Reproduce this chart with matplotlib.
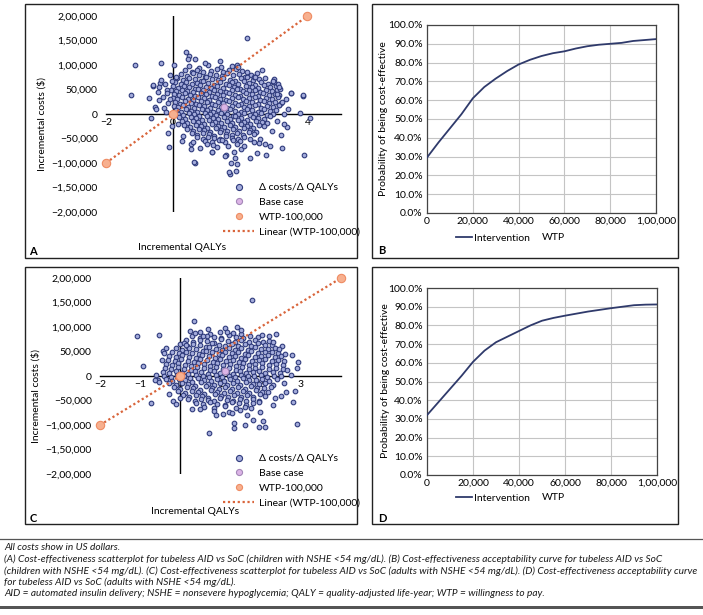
import matplotlib
matplotlib.use('Agg')
import matplotlib.pyplot as plt
from matplotlib.lines import Line2D
from matplotlib.patches import Rectangle

plt.rcParams['font.family'] = ['Lato', 'DejaVu Sans']
plt.rcParams['axes.unicode_minus'] = True

# ------------------------------------------------------------------ data
# Panel A: dense core of the PSA cloud, row by row (QALY values, cost values in $1000)
a_core_x = [
    [0.48, 0.78, 1.05, 1.42, 1.76],
    [0.36, 0.55, 0.71, 0.9, 1.12, 1.3, 1.5, 1.66, 1.88, 2.05],
    [0.24, 0.42, 0.6, 0.77, 0.95, 1.1, 1.27, 1.45, 1.6, 1.78, 1.95, 2.14, 2.33, 2.5],
    [0.12, 0.3, 0.47, 0.66, 0.82, 0.98, 1.16, 1.34, 1.5, 1.68, 1.85, 2.02, 2.2, 2.38, 2.57, 2.75],
    [0.05, 0.22, 0.38, 0.55, 0.72, 0.9, 1.05, 1.22, 1.4, 1.57, 1.74, 1.92, 2.1, 2.27, 2.45, 2.63, 2.82, 2.97],
    [0.0, 0.15, 0.32, 0.48, 0.65, 0.8, 0.98, 1.14, 1.31, 1.48, 1.66, 1.82, 2.0, 2.17, 2.35, 2.53, 2.7, 2.88, 3.05],
    [-0.05, 0.1, 0.26, 0.42, 0.58, 0.74, 0.9, 1.07, 1.23, 1.4, 1.57, 1.74, 1.91, 2.08, 2.26, 2.43, 2.6, 2.78, 2.95, 3.1],
    [0.02, 0.18, 0.34, 0.5, 0.66, 0.82, 0.99, 1.15, 1.32, 1.49, 1.65, 1.83, 2.0, 2.17, 2.34, 2.52, 2.69, 2.86, 3.03, 3.16],
    [0.0, 0.12, 0.27, 0.43, 0.59, 0.75, 0.91, 1.07, 1.24, 1.41, 1.58, 1.75, 1.92, 2.09, 2.26, 2.43, 2.6, 2.77, 2.94, 3.12],
    [0.05, 0.2, 0.36, 0.52, 0.68, 0.84, 1.0, 1.17, 1.33, 1.5, 1.67, 1.84, 2.01, 2.18, 2.35, 2.52, 2.7, 2.87, 3.04, 3.2],
    [0.02, 0.14, 0.29, 0.45, 0.61, 0.77, 0.93, 1.09, 1.26, 1.42, 1.59, 1.76, 1.93, 2.1, 2.27, 2.44, 2.62, 2.79, 2.96, 3.14],
    [0.08, 0.22, 0.38, 0.54, 0.7, 0.86, 1.02, 1.18, 1.35, 1.52, 1.68, 1.85, 2.02, 2.19, 2.36, 2.54, 2.71, 2.88, 3.06],
    [0.14, 0.3, 0.46, 0.62, 0.78, 0.94, 1.1, 1.27, 1.44, 1.6, 1.77, 1.94, 2.11, 2.28, 2.45, 2.63, 2.8, 2.98],
    [0.18, 0.35, 0.52, 0.68, 0.85, 1.01, 1.18, 1.35, 1.51, 1.68, 1.85, 2.02, 2.19, 2.37, 2.54, 2.72, 2.9],
    [0.25, 0.42, 0.58, 0.75, 0.92, 1.08, 1.25, 1.42, 1.59, 1.76, 1.93, 2.1, 2.28, 2.46, 2.64, 2.8],
    [0.33, 0.5, 0.67, 0.84, 1.0, 1.17, 1.34, 1.51, 1.68, 1.85, 2.02, 2.2, 2.38, 2.56, 2.7],
    [0.42, 0.6, 0.77, 0.93, 1.1, 1.27, 1.44, 1.61, 1.78, 1.95, 2.12, 2.3, 2.47],
    [0.55, 0.72, 0.89, 1.06, 1.23, 1.4, 1.57, 1.74, 1.91, 2.08, 2.26, 2.42],
    [0.7, 0.88, 1.05, 1.22, 1.4, 1.57, 1.75, 1.92, 2.1, 2.28],
    [0.95, 1.15, 1.36, 1.55, 1.78, 2.0],
    [1.2, 1.62, 1.9],
]
a_core_yk = [
    [97, 93, 99, 95, 98],
    [90, 86, 89, 85, 88, 91, 86, 89, 92, 87],
    [81, 78, 83, 79, 76, 82, 80, 77, 83, 79, 81, 76, 80, 83],
    [73, 69, 74, 71, 68, 75, 72, 69, 74, 70, 68, 73, 75, 70, 72, 74],
    [66, 62, 65, 61, 64, 67, 63, 60, 66, 62, 65, 61, 67, 63, 60, 65, 62, 66],
    [57, 53, 58, 55, 52, 59, 56, 53, 57, 54, 59, 55, 52, 58, 56, 53, 59, 55, 57],
    [49, 46, 50, 47, 44, 51, 48, 45, 50, 47, 44, 49, 51, 46, 48, 50, 45, 49, 47, 50],
    [41, 38, 42, 39, 36, 43, 40, 37, 41, 38, 43, 39, 36, 42, 40, 37, 43, 39, 41, 38],
    [33, 30, 34, 31, 28, 35, 32, 29, 34, 31, 28, 33, 35, 30, 32, 34, 29, 33, 31, 34],
    [25, 21, 26, 23, 20, 27, 24, 21, 25, 22, 27, 23, 20, 26, 24, 21, 27, 23, 25, 22],
    [17, 14, 18, 15, 12, 19, 16, 13, 18, 15, 12, 17, 19, 14, 16, 18, 13, 17, 15, 18],
    [9, 5, 10, 7, 4, 11, 8, 5, 9, 6, 11, 7, 4, 10, 8, 5, 11, 7, 9],
    [1, -2, 2, -1, -4, 3, 0, -3, 2, -1, -4, 1, 3, -2, 0, 2, -3, 1],
    [-7, -11, -6, -9, -12, -5, -8, -11, -7, -10, -5, -9, -12, -6, -8, -11, -5],
    [-15, -18, -14, -17, -20, -13, -16, -19, -15, -18, -13, -17, -20, -14, -16, -19],
    [-23, -27, -22, -25, -28, -21, -24, -27, -23, -26, -21, -25, -28, -22, -24],
    [-31, -34, -30, -33, -36, -29, -32, -35, -31, -34, -29, -33, -36],
    [-39, -43, -38, -41, -44, -37, -40, -43, -39, -42, -37, -41],
    [-47, -51, -46, -49, -52, -45, -48, -51, -47, -50],
    [-55, -58, -54, -57, -53, -56],
    [-63, -66, -62],
]
# Panel A: scattered points outside the core (QALYs, $1000)
a_out_x = [2.20, -1.15, -0.36, 0.04, -1.25, -0.73, -0.60, -0.39, -0.36, -0.53, -0.66, -0.16,
           -0.13, 0.64, 0.54, 0.60, 1.16, 1.56, 1.69, 1.86, 1.73, 1.90, 1.85, 2.30, 2.50, 2.76,
           2.90, 3.24, 3.21, 3.40, 3.30, 3.91, 4.09, 3.77, 3.87, 3.50, 3.13, 2.99, 3.00, 3.17,
           2.41, 1.90, 1.92, 0.95, 0.65, 0.47, 0.39, 0.44, 2.43, 2.97, 3.15, 3.51, 3.88, 3.09,
           3.43, 3.16, -0.61, -0.42, -0.41, -0.52, -0.24, -0.19, -0.17, -0.04, -0.27, -0.14,
           -0.02, 0.54, 0.63, 1.15, 1.55, 1.67, -0.30, -0.45, -0.20, -0.08, 2.03, 2.40, 2.75,
           1.46, 1.80, 2.10, 2.60, 2.95, 3.10, 3.25, 3.30, 0.15, 0.30, 0.25, 0.80, 1.30, 1.00,
           2.55, 2.20, 3.35, 0.10, -0.10, 1.40, 2.65]
a_out_yk = [156, 99, 105, 99, 39, 33, 58, 63, 69, 14, -9, -39,
            -67, -99, -62, -57, -78, -84, -122, -116, -99, -102,
            -89, -90, -79, -84, -65, -69, -43, -26, -20, -84,
            -9, 3, 37, 43, 61, 71, 66, 51, 76, 100, 95, 105,
            113, 119, 126, 112, 76, 67, 56, 43, 38, 41, 11,
            19, 59, 55, 29, 10, 61, 50, 43, 67, 12, 22, -24,
            -71, -98, -78, -85, -119, 35, 45, 5, 30, -72, -57,
            -62, -53, -77, -65, -50, -35, -15, 25, 0, -20, -45,
            -55, -70, -68, -62, -60, 85, 30, 75, 80, 108, 90]
a_base_x = [1.52]
a_base_yk = [14]

# Panel C: dense core
c_core_x = [
    [0.5, 0.75, 1.0, 1.3, 1.52],
    [0.3, 0.48, 0.66, 0.84, 1.02, 1.2, 1.38, 1.56, 1.74, 1.93],
    [0.15, 0.32, 0.5, 0.67, 0.84, 1.01, 1.18, 1.35, 1.52, 1.7, 1.87, 2.05, 2.2],
    [0.0, 0.16, 0.32, 0.48, 0.64, 0.8, 0.96, 1.12, 1.28, 1.44, 1.6, 1.77, 1.93, 2.1, 2.28],
    [-0.12, 0.05, 0.22, 0.39, 0.56, 0.72, 0.88, 1.04, 1.2, 1.36, 1.52, 1.68, 1.85, 2.02, 2.18, 2.36],
    [-0.2, -0.04, 0.13, 0.3, 0.47, 0.63, 0.8, 0.96, 1.12, 1.28, 1.44, 1.6, 1.76, 1.93, 2.1, 2.27, 2.44],
    [-0.28, -0.12, 0.05, 0.21, 0.38, 0.55, 0.71, 0.87, 1.03, 1.2, 1.36, 1.52, 1.68, 1.85, 2.01, 2.18, 2.35, 2.5],
    [-0.3, -0.14, 0.02, 0.18, 0.34, 0.5, 0.66, 0.82, 0.98, 1.14, 1.3, 1.46, 1.62, 1.78, 1.95, 2.11, 2.28, 2.44, 2.58],
    [-0.35, -0.2, -0.05, 0.11, 0.27, 0.43, 0.59, 0.75, 0.91, 1.07, 1.23, 1.39, 1.55, 1.71, 1.87, 2.03, 2.2, 2.37, 2.55],
    [-0.38, -0.22, -0.06, 0.1, 0.26, 0.42, 0.58, 0.74, 0.9, 1.06, 1.22, 1.38, 1.54, 1.7, 1.86, 2.03, 2.2, 2.37, 2.55],
    [-0.42, -0.27, -0.12, 0.04, 0.2, 0.36, 0.52, 0.68, 0.84, 1.0, 1.16, 1.32, 1.48, 1.64, 1.8, 1.96, 2.12, 2.3, 2.48],
    [-0.4, -0.24, -0.08, 0.08, 0.24, 0.4, 0.56, 0.72, 0.88, 1.04, 1.2, 1.36, 1.52, 1.68, 1.84, 2.0, 2.17, 2.34, 2.5],
    [-0.36, -0.2, -0.04, 0.12, 0.28, 0.44, 0.6, 0.76, 0.92, 1.08, 1.24, 1.4, 1.56, 1.72, 1.88, 2.04, 2.2, 2.4],
    [-0.28, -0.12, 0.04, 0.2, 0.36, 0.52, 0.68, 0.84, 1.0, 1.16, 1.32, 1.48, 1.64, 1.8, 1.96, 2.12, 2.3],
    [-0.15, 0.0, 0.16, 0.32, 0.48, 0.64, 0.8, 0.96, 1.12, 1.28, 1.44, 1.6, 1.76, 1.92, 2.08, 2.25],
    [-0.05, 0.12, 0.28, 0.44, 0.6, 0.76, 0.92, 1.08, 1.24, 1.4, 1.56, 1.72, 1.88, 2.04, 2.18],
    [0.06, 0.22, 0.38, 0.54, 0.7, 0.86, 1.02, 1.18, 1.34, 1.5, 1.66, 1.82, 1.98, 2.12],
    [0.2, 0.36, 0.52, 0.68, 0.84, 1.0, 1.16, 1.32, 1.48, 1.64, 1.8, 1.97],
    [0.38, 0.56, 0.74, 0.92, 1.1, 1.28, 1.46, 1.64, 1.82],
    [0.6, 0.85, 1.12, 1.38, 1.62],
    [0.85, 1.2, 1.48],
]
c_core_yk = [
    [89, 86, 90, 87, 85],
    [81, 78, 82, 79, 77, 83, 80, 78, 82, 79],
    [73, 70, 74, 71, 68, 75, 72, 69, 74, 70, 73, 69, 72],
    [65, 62, 66, 63, 60, 67, 64, 61, 66, 62, 65, 61, 67, 63, 64],
    [57, 54, 58, 55, 52, 59, 56, 53, 58, 54, 57, 53, 59, 55, 56, 58],
    [49, 46, 50, 47, 44, 51, 48, 45, 50, 46, 49, 45, 51, 47, 48, 50, 46],
    [41, 38, 42, 39, 36, 43, 40, 37, 42, 38, 41, 37, 43, 39, 40, 42, 38, 41],
    [33, 30, 34, 31, 28, 35, 32, 29, 34, 30, 33, 29, 35, 31, 32, 34, 30, 33, 31],
    [25, 22, 26, 23, 20, 27, 24, 21, 26, 22, 25, 21, 27, 23, 24, 26, 22, 25, 23],
    [17, 14, 18, 15, 12, 19, 16, 13, 18, 14, 17, 13, 19, 15, 16, 18, 14, 17, 15],
    [9, 6, 10, 7, 4, 11, 8, 5, 10, 6, 9, 5, 11, 7, 8, 10, 6, 9, 7],
    [1, -2, 2, -1, -4, 3, 0, -3, 2, -2, 1, -3, 3, -1, 0, 2, -2, 1, -1],
    [-7, -10, -6, -9, -12, -5, -8, -11, -6, -10, -7, -11, -5, -9, -8, -6, -10, -7],
    [-15, -18, -14, -17, -20, -13, -16, -19, -14, -18, -15, -19, -13, -17, -16, -14, -18],
    [-23, -26, -22, -25, -28, -21, -24, -27, -22, -26, -23, -27, -21, -25, -24, -22],
    [-31, -34, -30, -33, -36, -29, -32, -35, -30, -34, -31, -35, -29, -33, -32],
    [-39, -42, -38, -41, -44, -37, -40, -43, -38, -42, -39, -43, -37, -41],
    [-47, -50, -46, -49, -52, -45, -48, -51, -46, -50, -47, -51],
    [-55, -58, -54, -57, -60, -53, -56, -59, -55],
    [-63, -66, -62, -65, -64],
    [-71, -74, -70],
]
c_out_x = [1.78, 0.34, -1.08, -0.53, -0.92, -0.73, 0.72, 2.90, 2.80, 2.79, 2.92, 2.90, 2.75,
           2.64, 2.85, 2.53, 2.38, 2.21, 2.03, 1.62, 1.33, 1.33, 1.82, 1.97, 2.12, 2.07, 1.99,
           1.97, 1.66, 1.29, 1.05, 0.28, -0.18, -0.27, -0.60, -0.55, -0.42, -0.40, -0.35, 0.10,
           0.14, 0.37, 0.57, 0.68, 1.10, 1.41, 1.52, 1.17, 2.30, 2.45, 2.60, 2.50, 2.35, 2.30,
           2.58, 0.50, 0.00, -0.10, -0.62, -0.52, 0.90, 1.75, 2.65, -0.45, 0.25]
c_out_yk = [155, 113, 82, 84, 21, -55, -117, -98, -53, 43, 29,
            17, 3, -32, -30, 62, 85, 82, 83, -100, -107, -95,
            -89, -104, -105, -92, -73, -54, -80, -75, -78, -68,
            -51, -37, 3, -8, 52, 46, 57, 68, 63, 87, 81, 96,
            98, 99, 94, 90, 70, 55, 45, -40, -45, -60, -15,
            -68, -45, -58, -8, -12, -80, -66, 12, 33, 92]
c_base_x = [1.11]
c_base_yk = [10]

# WTP = 100,000 threshold line
wtp_line_x = [-2, 0, 4]
wtp_line_y = [-100000, 0, 200000]

# CEAC curves
ceac_wtp = [0, 5000, 10000, 15000, 20000, 25000, 30000, 35000, 40000, 45000, 50000,
            55000, 60000, 65000, 70000, 75000, 80000, 85000, 90000, 95000, 100000]
ceac_b = [29.5, 37.5, 45.0, 52.5, 61.0, 67.0, 71.5, 75.5, 79.0, 81.5, 83.5,
          85.0, 86.0, 87.5, 88.7, 89.5, 90.0, 90.5, 91.5, 92.0, 92.5]
ceac_d = [32.0, 39.0, 46.0, 53.0, 60.5, 66.5, 71.0, 74.0, 77.0, 80.0, 82.5,
          84.0, 85.2, 86.3, 87.4, 88.3, 89.2, 90.0, 90.8, 91.1, 91.2]

# ticks
cost_ticks = [-200000, -150000, -100000, -50000, 0, 50000, 100000, 150000, 200000]
cost_ticklabels = ['\u22122,00,000', '\u22121,50,000', '\u22121,00,000', '\u221250,000', '0',
                   '50,000', '1,00,000', '1,50,000', '2,00,000']
a_qaly_ticks = [-2, 0, 2, 4]
a_qaly_ticklabels = ['\u22122', '0', '2', '4']
c_qaly_ticks = [-2, -1, 0, 1, 2, 3]
c_qaly_ticklabels = ['\u22122', '\u22121', '0', '1', '2', '3']
wtp_ticks = [0, 20000, 40000, 60000, 80000, 100000]
wtp_ticklabels = ['0', '20,000', '40,000', '60,000', '80,000', '1,00,000']
prob_ticks = [0, 10, 20, 30, 40, 50, 60, 70, 80, 90, 100]
prob_ticklabels = ['0.0%', '10.0%', '20.0%', '30.0%', '40.0%', '50.0%', '60.0%', '70.0%',
                   '80.0%', '90.0%', '100.0%']

footer_lines = [
    'All costs show in US dollars.',
    '(A) Cost-effectiveness scatterplot for tubeless AID vs SoC (children with NSHE <54 mg/dL). (B) Cost-effectiveness acceptability curve for tubeless AID vs SoC',
    '(children with NSHE <54 mg/dL). (C) Cost-effectiveness scatterplot for tubeless AID vs SoC (adults with NSHE <54 mg/dL). (D) Cost-effectiveness acceptability curve',
    'for tubeless AID vs SoC (adults with NSHE <54 mg/dL).',
    'AID = automated insulin delivery; NSHE = nonsevere hypoglycemia; QALY = quality-adjusted life-year; WTP = willingness to pay.',
]

# ------------------------------------------------------------------ style
W, H = 703, 615
FS = 7.5
pt_face, pt_edge = '#a3abdb', '#2f3b7c'
base_face, base_edge = '#dcb4e6', '#a487b8'
wtp_face, wtp_edge = '#f7b08f', '#ef8c63'
line_color = '#d9653b'
curve_color = '#2f3a6b'

fig = plt.figure(figsize=(W / 100, H / 100), dpi=100)


def fx(px):
    return px / W


def fy(py):
    return 1 - py / H


def add_axes_px(x0, y0, x1, y1):
    return fig.add_axes([fx(x0), fy(y1), (x1 - x0) / W, (y1 - y0) / H])


def panel_box(x0, y0, x1, y1):
    fig.add_artist(Rectangle((fx(x0), fy(y1)), (x1 - x0) / W, (y1 - y0) / H,
                             transform=fig.transFigure, fill=False, lw=1.0,
                             edgecolor='#222222'))


def scatter_panel(ax, core_x, core_yk, ox, oyk, bx, byk, xlim, xticks, xticklabels,
                  xlabel_pos, ylabel_pos, legend_pos):
    xs, ys = [], []
    for xr, yr in zip(core_x, core_yk):
        xs += xr
        ys += [v * 1000 for v in yr]
    xs += ox
    ys += [v * 1000 for v in oyk]
    ax.scatter(xs, ys, s=11, facecolor=pt_face, edgecolor=pt_edge, linewidths=0.8,
               zorder=3, label='\u0394 costs/\u0394 QALYs')
    ax.plot(wtp_line_x, wtp_line_y, color=line_color, lw=1.6, ls=(0, (1, 1.2)),
            zorder=4, clip_on=False, label='Linear (WTP-100,000)')
    ax.scatter(bx, [v * 1000 for v in byk], s=24, facecolor=base_face, edgecolor=base_edge,
               linewidths=0.8, zorder=5, label='Base case')
    ax.scatter(wtp_line_x, wtp_line_y, s=36, facecolor=wtp_face, edgecolor=wtp_edge,
               linewidths=0.8, zorder=6, clip_on=False, label='WTP-100,000')
    ax.set_xlim(*xlim)
    ax.set_ylim(-200000, 200000)
    ax.set_yticks(cost_ticks)
    ax.set_yticklabels(cost_ticklabels)
    ax.set_xticks(xticks)
    ax.set_xticklabels(xticklabels)
    for s in ['top', 'right', 'left']:
        ax.spines[s].set_visible(False)
    ax.spines['bottom'].set_position(('data', 0))
    ax.spines['bottom'].set_linewidth(1.0)
    ax.spines['bottom'].set_zorder(1)
    ax.axvline(0, color='black', lw=1.0, zorder=1)
    ax.tick_params(axis='both', length=0, labelsize=FS)
    ax.tick_params(axis='y', pad=6)
    ax.tick_params(axis='x', pad=3)
    ax.patch.set_alpha(0)
    ax.set_xlabel('Incremental QALYs', fontsize=FS)
    ax.xaxis.set_label_coords(fx(xlabel_pos[0]), fy(xlabel_pos[1]), transform=fig.transFigure)
    ax.xaxis.label.set_va('center')
    ax.set_ylabel('Incremental costs ($)', fontsize=FS)
    ax.yaxis.set_label_coords(fx(ylabel_pos[0]), fy(ylabel_pos[1]), transform=fig.transFigure)
    ax.yaxis.label.set_va('center')
    handles = [
        Line2D([], [], ls='none', marker='o', ms=4.4, mfc=pt_face, mec=pt_edge, mew=0.8),
        Line2D([], [], ls='none', marker='o', ms=4.4, mfc=base_face, mec=base_edge, mew=0.8),
        Line2D([], [], ls='none', marker='o', ms=4.4, mfc=wtp_face, mec=wtp_edge, mew=0.8),
        Line2D([], [], color=line_color, lw=1.6, ls=(0, (1, 1.2))),
    ]
    labels = ['\u0394 costs/\u0394 QALYs', 'Base case', 'WTP-100,000', 'Linear (WTP-100,000)']
    ax.legend(handles, labels, loc='upper left',
              bbox_to_anchor=(fx(legend_pos[0]), fy(legend_pos[1])),
              bbox_transform=fig.transFigure, frameon=False, fontsize=FS,
              borderpad=0, borderaxespad=0, handlelength=3.0, handletextpad=0.45,
              labelspacing=0.52)


def ceac_panel(ax, vals, legend_y, ylabel_pos):
    ax.plot(ceac_wtp, vals, color=curve_color, lw=1.3, label='Intervention', zorder=3)
    ax.set_xlim(0, 100000)
    ax.set_ylim(0, 100)
    ax.set_xticks(wtp_ticks)
    ax.set_xticklabels(wtp_ticklabels)
    ax.set_yticks(prob_ticks)
    ax.set_yticklabels(prob_ticklabels)
    ax.grid(True, color='#c4c4c4', lw=0.8)
    ax.set_axisbelow(True)
    for s in ax.spines.values():
        s.set_color('#444444')
        s.set_linewidth(0.9)
    ax.tick_params(axis='both', length=0, labelsize=FS)
    ax.tick_params(axis='y', pad=3)
    ax.tick_params(axis='x', pad=3)
    ax.set_xlabel('WTP', fontsize=FS)
    ax.xaxis.set_label_coords(fx(553), fy(legend_y), transform=fig.transFigure)
    ax.xaxis.label.set_va('center')
    ax.set_ylabel('Probability of being cost-effective', fontsize=FS)
    ax.yaxis.set_label_coords(fx(ylabel_pos[0]), fy(ylabel_pos[1]), transform=fig.transFigure)
    ax.yaxis.label.set_va('center')
    ax.legend(loc='center left', bbox_to_anchor=(fx(456), fy(legend_y)),
              bbox_transform=fig.transFigure, frameon=False, fontsize=FS,
              borderpad=0, borderaxespad=0, handlelength=1.5, handletextpad=0.25)


# ------------------------------------------------------------------ panels
panel_box(25, 4, 357, 258)
panel_box(372, 4, 678, 258)
panel_box(25, 267, 357, 524)
panel_box(372, 267, 678, 524)

ax_a = add_axes_px(106, 16, 341, 212)
scatter_panel(ax_a, a_core_x, a_core_yk, a_out_x, a_out_yk, a_base_x, a_base_yk, (-2, 5),
              a_qaly_ticks, a_qaly_ticklabels, (182, 247), (42, 124), (223, 183))

ax_b = add_axes_px(427, 25, 656, 213)
ceac_panel(ax_b, ceac_b, 238, (383, 119))

ax_c = add_axes_px(100, 278, 341, 474)
scatter_panel(ax_c, c_core_x, c_core_yk, c_out_x, c_out_yk, c_base_x, c_base_yk, (-2, 4),
              c_qaly_ticks, c_qaly_ticklabels, (195, 512), (36, 396), (223, 454))

ax_d = add_axes_px(427, 288, 657, 475)
ceac_panel(ax_d, ceac_d, 498, (385, 381))

for lab, (px, py) in zip(['A', 'B', 'C', 'D'], [(33, 252), (382, 250), (33, 518), (382, 518)]):
    fig.text(fx(px), fy(py), lab, fontsize=8, fontweight='bold', ha='center', va='center')

# ------------------------------------------------------------------ footer
fig.add_artist(Line2D([fx(0), fx(703)], [fy(539), fy(539)], transform=fig.transFigure,
                      color='#555555', lw=0.9))
fig.add_artist(Rectangle((fx(0), fy(609)), 1.0, 3 / H, transform=fig.transFigure,
                         facecolor='#555555', edgecolor='none'))

renderer = fig.canvas.get_renderer()
probe = fig.text(0, 0, footer_lines[2], fontsize=6.5, style='italic')
wpx = probe.get_window_extent(renderer).width
probe.remove()
foot_fs = 6.5 * 688 / wpx
for line, py in zip(footer_lines, [548, 559.5, 571, 582.5, 594]):
    fig.text(fx(4), fy(py), line, fontsize=foot_fs, style='italic', ha='left', va='center',
             color='#1a1a1a')

fig.savefig('out.png', dpi=100)
